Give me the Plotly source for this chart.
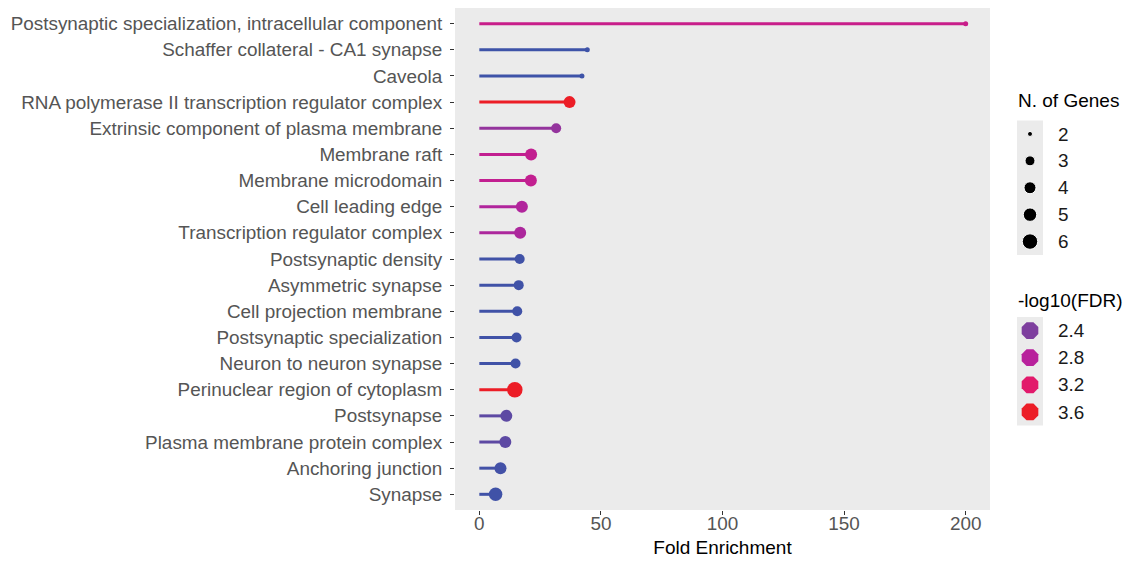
import numpy as np
import plotly.graph_objects as go

# ---------------- data ----------------
terms = [
    "Postsynaptic specialization, intracellular component",
    "Schaffer collateral - CA1 synapse",
    "Caveola",
    "RNA polymerase II transcription regulator complex",
    "Extrinsic component of plasma membrane",
    "Membrane raft",
    "Membrane microdomain",
    "Cell leading edge",
    "Transcription regulator complex",
    "Postsynaptic density",
    "Asymmetric synapse",
    "Cell projection membrane",
    "Postsynaptic specialization",
    "Neuron to neuron synapse",
    "Perinuclear region of cytoplasm",
    "Postsynapse",
    "Plasma membrane protein complex",
    "Anchoring junction",
    "Synapse",
]
fold_enrichment = [200, 44.4, 42.2, 37.1, 31.6, 21.3, 21.2, 17.5, 16.8, 16.6,
                   16.2, 15.6, 15.3, 14.9, 14.6, 11.1, 10.7, 8.7, 6.7]
n_genes = [2, 2, 2, 4, 3, 4, 4, 4, 4, 3, 3, 3, 3, 3, 6, 4, 4, 4, 5]
neg_log10_fdr = [2.95, 2.02, 2.02, 3.65, 2.55, 2.9, 2.9, 2.75, 2.72, 2.03,
                 2.03, 2.03, 2.03, 2.03, 3.65, 2.2, 2.2, 2.05, 2.03]

x_ticks = [0, 50, 100, 150, 200]
size_legend_values = [2, 3, 4, 5, 6]
color_legend_values = [2.4, 2.8, 3.2, 3.6]

# ---------------- styles ----------------
color_stops = [(2.0, "#3B54A8"), (2.4, "#7E3F9E"), (2.8, "#B8219C"),
               (3.2, "#E2196B"), (3.6, "#EC1E27"), (3.7, "#ED1C24")]
size_px = {2: 5, 3: 10, 4: 12, 5: 13.5, 6: 15.5}


def hex_rgb(h):
    h = h.lstrip("#")
    return [int(h[i:i + 2], 16) for i in (0, 2, 4)]


stop_v = [s[0] for s in color_stops]
stop_rgb = np.array([hex_rgb(s[1]) for s in color_stops], dtype=float)


def val_color(v):
    r = [np.interp(v, stop_v, stop_rgb[:, k]) for k in range(3)]
    return "rgb(%d,%d,%d)" % tuple(int(round(c)) for c in r)


colors = [val_color(v) for v in neg_log10_fdr]
sizes = [size_px[g] for g in n_genes]

W, H = 1125, 562
ml, mr, mt, mb = 455, 5, 8, 52
pw, ph = W - ml - mr, H - mt - mb
plot_right = 990


def px_x(p):
    return (p - ml) / pw


def px_y(p):
    return (H - mb - p) / ph


fig = go.Figure()

# segments
for t, fe, c in zip(terms, fold_enrichment, colors):
    fig.add_trace(go.Scatter(x=[0, fe], y=[t, t], mode="lines",
                             line=dict(color=c, width=3),
                             showlegend=False, hoverinfo="skip"))

# points
fig.add_trace(go.Scatter(x=fold_enrichment, y=terms, mode="markers",
                         marker=dict(color=colors, size=sizes, opacity=1, line=dict(width=0)),
                         showlegend=False,
                         customdata=np.stack([n_genes, neg_log10_fdr], axis=1),
                         hovertemplate="%{y}<br>FE: %{x}<br>Genes: %{customdata[0]}"
                                       "<br>-log10(FDR): %{customdata[1]}<extra></extra>"))

# size legend
fig.add_trace(go.Scatter(x=[0] * len(size_legend_values), y=size_legend_values,
                         mode="markers", xaxis="x2", yaxis="y2",
                         marker=dict(color="black", opacity=1,
                                     size=[size_px[v] for v in size_legend_values]),
                         showlegend=False, hoverinfo="skip"))
# color legend
fig.add_trace(go.Scatter(x=[0] * len(color_legend_values), y=color_legend_values,
                         mode="markers", xaxis="x3", yaxis="y3",
                         marker=dict(color=[val_color(v) for v in color_legend_values], size=18,
                                     opacity=1, symbol="octagon"),
                         showlegend=False, hoverinfo="skip"))

FONT = "Liberation Sans, Arial, sans-serif"
axis_text = dict(family=FONT, size=18.9, color="#555555")
leg_x_dom = [px_x(1017), px_x(1043)]

fig.update_layout(
    template="none",
    width=W, height=H,
    margin=dict(l=ml, r=mr, t=mt, b=mb, autoexpand=False),
    paper_bgcolor="white",
    plot_bgcolor="#EBEBEB",
    font=dict(family=FONT, size=18.9, color="black"),
    xaxis=dict(domain=[0, px_x(plot_right)], range=[-10, 210], tickvals=x_ticks,
               ticks="outside", ticklen=4, tickwidth=1, tickcolor="#333333",
               tickfont=axis_text, showgrid=False, zeroline=False, showline=False,
               automargin=False, ticklabelstandoff=-8,
               title=dict(text="Fold Enrichment", font=dict(size=19, color="black"), standoff=8)),
    yaxis=dict(type="category", categoryorder="array", categoryarray=terms,
               range=[len(terms) - 0.4, -0.6], automargin=False,
               ticks="outside", ticklen=4, tickwidth=1, tickcolor="#333333",
               ticklabelstandoff=4,
               tickfont=axis_text, showgrid=False, zeroline=False, showline=False),
    xaxis2=dict(domain=leg_x_dom, anchor="y2", range=[-1, 1], visible=False),
    yaxis2=dict(domain=[px_y(255), px_y(120.5)], anchor="x2", range=[6.5, 1.5],
                side="right", tickvals=size_legend_values, automargin=False,
                ticktext=[str(v) for v in size_legend_values],
                ticks="", showgrid=False, zeroline=False, showline=False,
                ticklabelstandoff=14,
                tickfont=dict(size=18.9, color="#1A1A1A")),
    xaxis3=dict(domain=leg_x_dom, anchor="y3", range=[-1, 1], visible=False),
    yaxis3=dict(domain=[px_y(425.5), px_y(317)], anchor="x3", range=[3.8, 2.2],
                side="right", tickvals=color_legend_values, automargin=False,
                ticktext=["%.1f" % v for v in color_legend_values],
                ticks="", showgrid=False, zeroline=False, showline=False,
                ticklabelstandoff=14,
                tickfont=dict(size=18.9, color="#1A1A1A")),
    annotations=[
        dict(text="N. of Genes", x=px_x(1016), y=px_y(101), xref="paper", yref="paper",
             xanchor="left", yanchor="middle", showarrow=False,
             font=dict(size=19, color="black")),
        dict(text="-log10(FDR)", x=px_x(1016), y=px_y(301), xref="paper", yref="paper",
             xanchor="left", yanchor="middle", showarrow=False,
             font=dict(size=19, color="black")),
    ],
    showlegend=False,
)

fig.write_html("out.html", config={"displayModeBar": False},
               post_script="document.body.style.margin='0';document.body.style.overflow='hidden';")
